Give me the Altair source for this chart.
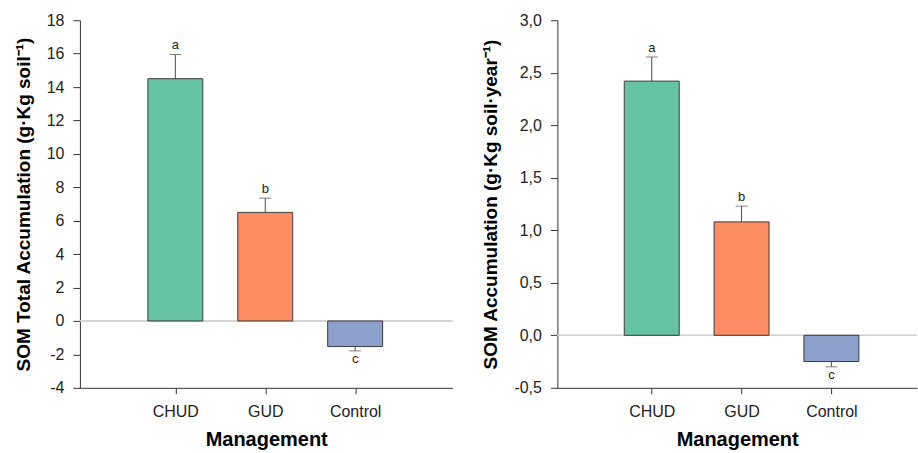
import altair as alt
import pandas as pd

# Management treatments and their group letters
management = ["CHUD", "GUD", "Control"]
letters = ["a", "b", "c"]
colors = ["#66c2a5", "#fc8d62", "#8da0cb"]

# Total SOM accumulation (g·Kg soil⁻¹): mean and standard error
total_mean = [14.5, 6.5, -1.53]
total_err = [1.45, 0.85, 0.26]

# Annual SOM accumulation (g·Kg soil·year⁻¹): mean and standard error
annual_mean = [2.42, 1.08, -0.25]
annual_err = [0.23, 0.15, 0.05]

FONT = "Liberation Sans"
label_expr = "[" + ",".join(f"'{m}'" for m in management) + "][datum.value]"


def make_frame(means, errs):
    rows = []
    for i, (m, v, e, l) in enumerate(zip(management, means, errs, letters)):
        end = v + e if v >= 0 else v - e
        rows.append({"pos": i, "Management": m, "mean": v, "end": end, "letter": l})
    return pd.DataFrame(rows)


def panel(means, errs, ydomain, ystep, ytitle, width, xdomain, decimals):
    df = make_frame(means, errs)
    n_ticks = int(round((ydomain[1] - ydomain[0]) / ystep)) + 1
    tick_vals = [round(ydomain[0] + k * ystep, 3) for k in range(n_ticks)]
    # decimal comma and a plain hyphen for negatives
    if decimals:
        yfmt = "replace(replace(format(datum.value, '.1f'), '.', ','), '\u2212', '-')"
    else:
        yfmt = "replace(format(datum.value, 'd'), '\u2212', '-')"

    xscale = alt.Scale(domain=xdomain, nice=False, zero=False)
    xaxis = alt.Axis(
        values=[0, 1, 2],
        labelExpr=label_expr,
        labelFlush=False,
        labelOverlap=False,
        title="Management",
        grid=False,
        tickSize=6,
        labelPadding=10,
        titlePadding=10,
        labelFontSize=16,
        titleFontSize=20,
    )
    yscale = alt.Scale(domain=ydomain, nice=False, zero=False)
    yaxis = alt.Axis(
        values=tick_vals,
        labelExpr=yfmt,
        labelOverlap=False,
        labelFlush=False,
        title=ytitle,
        grid=False,
        tickSize=7,
        labelPadding=9,
        titlePadding=13,
        labelFontSize=16,
        titleFontSize=19,
    )

    def X():
        return alt.X("pos:Q", scale=xscale, axis=xaxis)

    def Y(field):
        return alt.Y(f"{field}:Q", scale=yscale, axis=yaxis)

    base = alt.Chart(df)
    zero = base.mark_rule(color="#cfcfcf", strokeWidth=1).encode(
        y=alt.datum(0, scale=yscale, axis=yaxis)
    )
    bars = base.mark_bar(size=55, stroke="#3a3a3a", strokeWidth=1).encode(
        x=X(),
        y=Y("mean"),
        color=alt.Color(
            "Management:N",
            scale=alt.Scale(domain=management, range=colors),
            legend=None,
        ),
    )
    err = base.mark_rule(color="#4a4a4a", strokeWidth=1).encode(
        x=X(), y=Y("mean"), y2="end:Q"
    )
    cap = base.mark_tick(orient="horizontal", size=12, thickness=1, color="#4a4a4a").encode(
        x=X(), y=Y("end")
    )
    up = base.transform_filter("datum.mean >= 0").mark_text(
        baseline="bottom", dy=-2, fontSize=13, font=FONT, color="#222"
    ).encode(x=X(), y=Y("end"), text="letter:N")
    down = base.transform_filter("datum.mean < 0").mark_text(
        baseline="top", dy=2, fontSize=13, font=FONT, color="#222"
    ).encode(x=X(), y=Y("end"), text="letter:N")

    return alt.layer(zero, bars, err, cap, up, down).properties(width=width, height=368)


left = panel(
    total_mean, total_err, [-4, 18], 2,
    "SOM Total Accumulation (g·Kg soil⁻¹)",
    373, [-93 / 92.5, (373 - 93) / 92.5], False,
)
right = panel(
    annual_mean, annual_err, [-0.5, 3.0], 0.5,
    "SOM Accumulation (g·Kg soil·year⁻¹)",
    360, [-92 / 92.5, (360 - 92) / 92.5], True,
)

chart = (
    alt.hconcat(left, right, spacing=28)
    .properties(padding={"left": 14, "top": 12, "right": 0, "bottom": 0})
    .configure(font=FONT)
    .configure_view(stroke=None)
    .configure_axis(
        domainColor="#333333",
        tickColor="#333333",
        labelColor="#222222",
        titleColor="#000000",
        titleFontWeight="bold",
        labelFont=FONT,
        titleFont=FONT,
    )
)

chart.save("out.html", embed_options={"renderer": "svg", "actions": False})
